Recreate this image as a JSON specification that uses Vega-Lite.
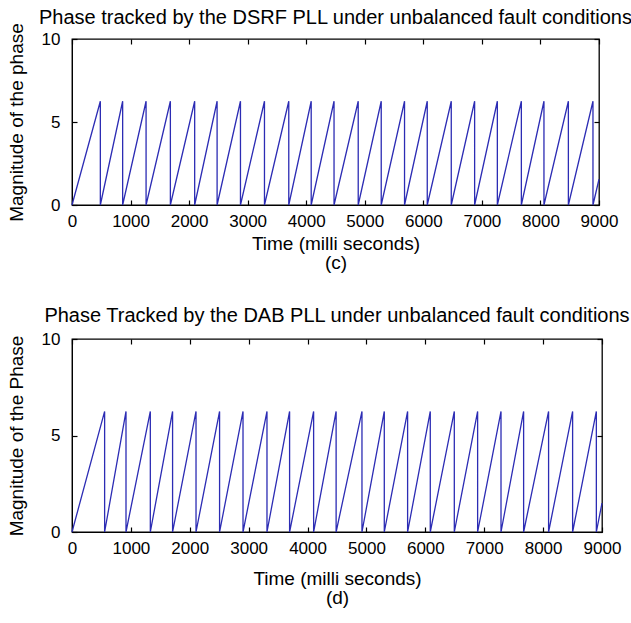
{
  "$schema": "https://vega.github.io/schema/vega-lite/v6.json",
  "background": "white",
  "padding": {"left": 6, "top": 7, "right": 0, "bottom": 0},
  "config": {
    "font": "Liberation Sans",
    "view": {"stroke": "black", "strokeWidth": 1.3},
    "axis": {"labelFont": "Liberation Sans", "labelFontSize": 17, "labelColor": "black", "titleFont": "Liberation Sans", "titleFontSize": 19, "titleFontWeight": "normal", "titleColor": "black", "grid": false, "domainColor": "black", "tickColor": "black", "tickSize": -5, "tickWidth": 1.2, "labelPadding": 13, "titleLineHeight": 19, "labelOverlap": false, "labelFlush": false, "format": "d", "minExtent": 0},
    "title": {"font": "Liberation Sans", "fontSize": 20, "fontWeight": "normal", "color": "black"},
    "concat": {"spacing": 32}
  },
  "data": {"values": [
    {"p":"c","i":0,"t":0,"v":0},{"p":"c","i":1,"t":484,"v":6.25},{"p":"c","i":2,"t":484,"v":0},
    {"p":"c","i":3,"t":865,"v":6.25},{"p":"c","i":4,"t":865,"v":0},
    {"p":"c","i":5,"t":1265,"v":6.25},{"p":"c","i":6,"t":1265,"v":0},
    {"p":"c","i":7,"t":1680,"v":6.25},{"p":"c","i":8,"t":1680,"v":0},
    {"p":"c","i":9,"t":2095,"v":6.25},{"p":"c","i":10,"t":2095,"v":0},
    {"p":"c","i":11,"t":2478,"v":6.25},{"p":"c","i":12,"t":2478,"v":0},
    {"p":"c","i":13,"t":2877,"v":6.25},{"p":"c","i":14,"t":2877,"v":0},
    {"p":"c","i":15,"t":3287,"v":6.25},{"p":"c","i":16,"t":3287,"v":0},
    {"p":"c","i":17,"t":3702,"v":6.25},{"p":"c","i":18,"t":3702,"v":0},
    {"p":"c","i":19,"t":4085,"v":6.25},{"p":"c","i":20,"t":4085,"v":0},
    {"p":"c","i":21,"t":4475,"v":6.25},{"p":"c","i":22,"t":4475,"v":0},
    {"p":"c","i":23,"t":4888,"v":6.25},{"p":"c","i":24,"t":4888,"v":0},
    {"p":"c","i":25,"t":5281,"v":6.25},{"p":"c","i":26,"t":5281,"v":0},
    {"p":"c","i":27,"t":5679,"v":6.25},{"p":"c","i":28,"t":5679,"v":0},
    {"p":"c","i":29,"t":6067,"v":6.25},{"p":"c","i":30,"t":6067,"v":0},
    {"p":"c","i":31,"t":6477,"v":6.25},{"p":"c","i":32,"t":6477,"v":0},
    {"p":"c","i":33,"t":6876,"v":6.25},{"p":"c","i":34,"t":6876,"v":0},
    {"p":"c","i":35,"t":7264,"v":6.25},{"p":"c","i":36,"t":7264,"v":0},
    {"p":"c","i":37,"t":7674,"v":6.25},{"p":"c","i":38,"t":7674,"v":0},
    {"p":"c","i":39,"t":8060,"v":6.25},{"p":"c","i":40,"t":8060,"v":0},
    {"p":"c","i":41,"t":8477,"v":6.25},{"p":"c","i":42,"t":8477,"v":0},
    {"p":"c","i":43,"t":8897,"v":6.25},{"p":"c","i":44,"t":8897,"v":0},
    {"p":"c","i":45,"t":9000,"v":1.55},
    {"p":"d","i":0,"t":0,"v":0},{"p":"d","i":1,"t":554,"v":6.25},{"p":"d","i":2,"t":554,"v":0},
    {"p":"d","i":3,"t":917,"v":6.25},{"p":"d","i":4,"t":917,"v":0},
    {"p":"d","i":5,"t":1330,"v":6.25},{"p":"d","i":6,"t":1330,"v":0},
    {"p":"d","i":7,"t":1708,"v":6.25},{"p":"d","i":8,"t":1708,"v":0},
    {"p":"d","i":9,"t":2106,"v":6.25},{"p":"d","i":10,"t":2106,"v":0},
    {"p":"d","i":11,"t":2506,"v":6.25},{"p":"d","i":12,"t":2506,"v":0},
    {"p":"d","i":13,"t":2904,"v":6.25},{"p":"d","i":14,"t":2904,"v":0},
    {"p":"d","i":15,"t":3311,"v":6.25},{"p":"d","i":16,"t":3311,"v":0},
    {"p":"d","i":17,"t":3695,"v":6.25},{"p":"d","i":18,"t":3695,"v":0},
    {"p":"d","i":19,"t":4103,"v":6.25},{"p":"d","i":20,"t":4103,"v":0},
    {"p":"d","i":21,"t":4485,"v":6.25},{"p":"d","i":22,"t":4485,"v":0},
    {"p":"d","i":23,"t":4924,"v":6.25},{"p":"d","i":24,"t":4924,"v":0},
    {"p":"d","i":25,"t":5303,"v":6.25},{"p":"d","i":26,"t":5303,"v":0},
    {"p":"d","i":27,"t":5699,"v":6.25},{"p":"d","i":28,"t":5699,"v":0},
    {"p":"d","i":29,"t":6084,"v":6.25},{"p":"d","i":30,"t":6084,"v":0},
    {"p":"d","i":31,"t":6492,"v":6.25},{"p":"d","i":32,"t":6492,"v":0},
    {"p":"d","i":33,"t":6888,"v":6.25},{"p":"d","i":34,"t":6888,"v":0},
    {"p":"d","i":35,"t":7285,"v":6.25},{"p":"d","i":36,"t":7285,"v":0},
    {"p":"d","i":37,"t":7669,"v":6.25},{"p":"d","i":38,"t":7669,"v":0},
    {"p":"d","i":39,"t":8093,"v":6.25},{"p":"d","i":40,"t":8093,"v":0},
    {"p":"d","i":41,"t":8501,"v":6.25},{"p":"d","i":42,"t":8501,"v":0},
    {"p":"d","i":43,"t":8904,"v":6.25},{"p":"d","i":44,"t":8904,"v":0},
    {"p":"d","i":45,"t":9000,"v":1.5}
  ]},
  "vconcat": [
    {
      "title": {"text": "Phase tracked by the DSRF PLL under unbalanced fault conditions", "offset": -5},
      "width": 527, "height": 166,
      "transform": [{"filter": "datum.p == 'c'"}],
      "layer": [
        {"mark": {"type": "line", "color": "#2c2cb4", "strokeWidth": 1.3},
         "encoding": {
           "x": {"field": "t", "type": "quantitative", "scale": {"domain": [0, 9000], "nice": false}, "axis": {"orient": "bottom", "values": [0,1000,2000,3000,4000,5000,6000,7000,8000,9000], "title": ["Time (milli seconds)", "(c)"], "titlePadding": 5}},
           "y": {"field": "v", "type": "quantitative", "scale": {"domain": [0, 10], "nice": false}, "axis": {"orient": "left", "values": [0,5,10], "title": "Magnitude of the phase", "titlePadding": 15, "labelPadding": 17}},
           "order": {"field": "i", "type": "quantitative"}}},
        {"mark": {"type": "line", "opacity": 0},
         "encoding": {
           "x": {"field": "t", "type": "quantitative", "scale": {"domain": [0, 9000], "nice": false}, "axis": {"orient": "top", "values": [0,1000,2000,3000,4000,5000,6000,7000,8000,9000], "labels": false, "title": null, "domain": false, "minExtent": 0, "maxExtent": 0}},
           "y": {"field": "v", "type": "quantitative", "scale": {"domain": [0, 10], "nice": false}, "axis": {"orient": "right", "values": [0,5,10], "labels": false, "title": null, "domain": false, "minExtent": 0, "maxExtent": 0}},
           "order": {"field": "i", "type": "quantitative"}}}
      ],
      "resolve": {"axis": {"x": "independent", "y": "independent"}}
    },
    {
      "title": {"text": "Phase Tracked by the DAB PLL under unbalanced fault conditions", "offset": 4},
      "width": 530, "height": 193,
      "transform": [{"filter": "datum.p == 'd'"}],
      "layer": [
        {"mark": {"type": "line", "color": "#2c2cb4", "strokeWidth": 1.3},
         "encoding": {
           "x": {"field": "t", "type": "quantitative", "scale": {"domain": [0, 9000], "nice": false}, "axis": {"orient": "bottom", "values": [0,1000,2000,3000,4000,5000,6000,7000,8000,9000], "title": ["Time (milli seconds)", "(d)"], "titlePadding": 13}},
           "y": {"field": "v", "type": "quantitative", "scale": {"domain": [0, 10], "nice": false}, "axis": {"orient": "left", "values": [0,5,10], "title": "Magnitude of the Phase", "titlePadding": 15, "labelPadding": 17}},
           "order": {"field": "i", "type": "quantitative"}}},
        {"mark": {"type": "line", "opacity": 0},
         "encoding": {
           "x": {"field": "t", "type": "quantitative", "scale": {"domain": [0, 9000], "nice": false}, "axis": {"orient": "top", "values": [0,1000,2000,3000,4000,5000,6000,7000,8000,9000], "labels": false, "title": null, "domain": false, "minExtent": 0, "maxExtent": 0}},
           "y": {"field": "v", "type": "quantitative", "scale": {"domain": [0, 10], "nice": false}, "axis": {"orient": "right", "values": [0,5,10], "labels": false, "title": null, "domain": false, "minExtent": 0, "maxExtent": 0}},
           "order": {"field": "i", "type": "quantitative"}}}
      ],
      "resolve": {"axis": {"x": "independent", "y": "independent"}}
    }
  ]
}
